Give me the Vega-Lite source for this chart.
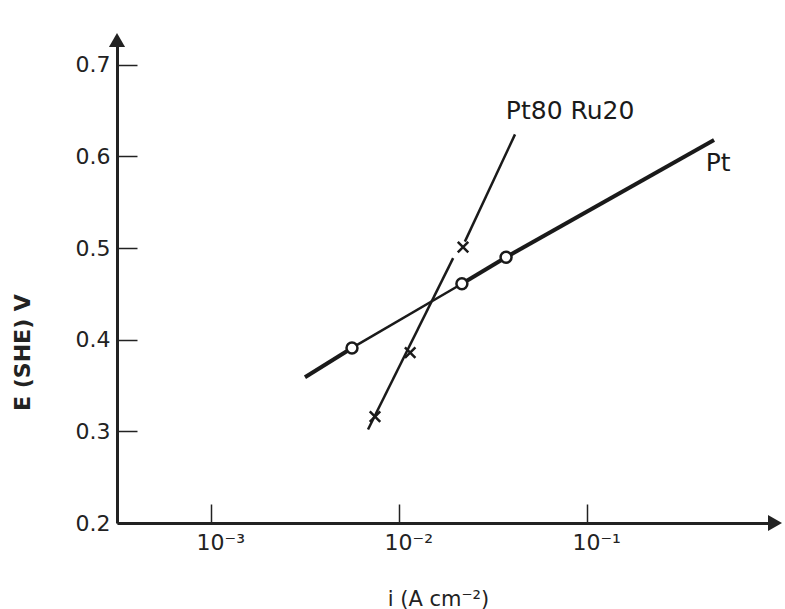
{
  "$schema": "https://vega.github.io/schema/vega-lite/v6.json",
  "width": 658,
  "height": 483,
  "autosize": {"type": "none"},
  "padding": {"left": 117, "top": 40, "right": 10, "bottom": 86},
  "background": "white",
  "config": {
    "view": {"stroke": null},
    "font": "DejaVu Sans"
  },
  "datasets": {
    "lines": [
      {"seg": "Pt-a", "i": 0.00316, "E": 0.359},
      {"seg": "Pt-a", "i": 0.00562, "E": 0.391},
      {"seg": "Pt-b", "i": 0.00562, "E": 0.391},
      {"seg": "Pt-b", "i": 0.0216, "E": 0.461},
      {"seg": "Pt-c", "i": 0.0216, "E": 0.461},
      {"seg": "Pt-c", "i": 0.0371, "E": 0.490},
      {"seg": "Pt-d", "i": 0.0371, "E": 0.490},
      {"seg": "Pt-d", "i": 0.474, "E": 0.618},
      {"seg": "PtRu", "i": 0.00684, "E": 0.302},
      {"seg": "PtRu", "i": 0.0194, "E": 0.489},
      {"seg": "leader", "i": 0.0224, "E": 0.507},
      {"seg": "leader", "i": 0.0414, "E": 0.624}
    ],
    "points": [
      {"series": "Pt", "i": 0.00562, "E": 0.391},
      {"series": "Pt", "i": 0.0216, "E": 0.461},
      {"series": "Pt", "i": 0.0371, "E": 0.490},
      {"series": "Pt80 Ru20", "i": 0.00745, "E": 0.316},
      {"series": "Pt80 Ru20", "i": 0.01146, "E": 0.386},
      {"series": "Pt80 Ru20", "i": 0.0219, "E": 0.501}
    ],
    "labels": [
      {"text": "Pt80 Ru20", "i": 0.0813, "E": 0.649},
      {"text": "Pt", "i": 0.498, "E": 0.593}
    ],
    "arrows": [
      {"dir": "up", "i": 0.000316, "E": 0.727},
      {"dir": "right", "i": 1.0, "E": 0.2}
    ]
  },
  "encoding": {
    "x": {
      "field": "i", "type": "quantitative",
      "scale": {"type": "log", "domain": [0.000316, 1.0], "nice": false},
      "axis": {
        "title": "i (A cm⁻²)",
        "values": [0.001, 0.01, 0.1],
        "grid": false,
        "domainColor": "#222", "domainWidth": 3,
        "tickColor": "#222", "tickWidth": 1.5, "tickSize": -19,
        "labelPadding": 28, "labelBaseline": "top", "labelAlign": "left", "labelOffset": -15,
        "labelFontSize": 22, "labelColor": "#222",
        "labelExpr": "datum.value < 0.005 ? '10⁻³' : (datum.value < 0.05 ? '10⁻²' : '10⁻¹')",
        "titleFontSize": 21, "titleFontWeight": "normal", "titleColor": "#222",
        "titleX": 321, "titleY": 82, "titleAlign": "center", "titleBaseline": "alphabetic"
      }
    },
    "y": {
      "field": "E", "type": "quantitative",
      "scale": {"domain": [0.2, 0.727], "nice": false, "zero": false},
      "axis": {
        "title": "E (SHE) V",
        "values": [0.2, 0.3, 0.4, 0.5, 0.6, 0.7],
        "format": ".1f",
        "grid": false,
        "domainColor": "#222", "domainWidth": 3,
        "tickColor": "#222", "tickWidth": 1.5, "tickSize": -20,
        "labelPadding": 27, "labelFontSize": 22, "labelColor": "#222",
        "labelFlush": false,
        "titleFontSize": 22, "titleFontWeight": "bold", "titleColor": "#222",
        "titleAngle": 270, "titleX": -95, "titleY": 312, "titleAlign": "center", "titleBaseline": "middle"
      }
    }
  },
  "layer": [
    {
      "data": {"name": "lines"},
      "transform": [{"filter": {"field": "seg", "oneOf": ["Pt-a", "Pt-c", "Pt-d"]}}],
      "mark": {"type": "line", "color": "#1a1a1a", "strokeWidth": 4},
      "encoding": {"detail": {"field": "seg"}}
    },
    {
      "data": {"name": "lines"},
      "transform": [{"filter": {"field": "seg", "oneOf": ["Pt-b", "PtRu", "leader"]}}],
      "mark": {"type": "line", "color": "#1a1a1a", "strokeWidth": 2.5},
      "encoding": {"detail": {"field": "seg"}}
    },
    {
      "data": {"name": "points"},
      "transform": [{"filter": "datum.series == 'Pt'"}],
      "mark": {"type": "point", "shape": "circle", "filled": false, "fill": "white", "fillOpacity": 1, "stroke": "#1a1a1a", "strokeWidth": 2.5, "size": 120, "opacity": 1}
    },
    {
      "data": {"name": "points"},
      "transform": [{"filter": "datum.series == 'Pt80 Ru20'"}],
      "mark": {"type": "point", "shape": "M-1,-1L1,1M-1,1L1,-1", "filled": false, "stroke": "#1a1a1a", "strokeWidth": 2.5, "size": 110, "opacity": 1}
    },
    {
      "data": {"name": "labels"},
      "mark": {"type": "text", "fontSize": 25, "color": "#1a1a1a", "align": "center", "baseline": "middle"},
      "encoding": {"text": {"field": "text"}}
    },
    {
      "data": {"name": "arrows"},
      "mark": {"type": "point", "filled": true, "color": "#222", "size": 260, "opacity": 1},
      "encoding": {
        "shape": {"field": "dir", "type": "nominal", "scale": {"domain": ["up", "right"], "range": ["triangle-up", "triangle-right"]}, "legend": null}
      }
    }
  ]
}
